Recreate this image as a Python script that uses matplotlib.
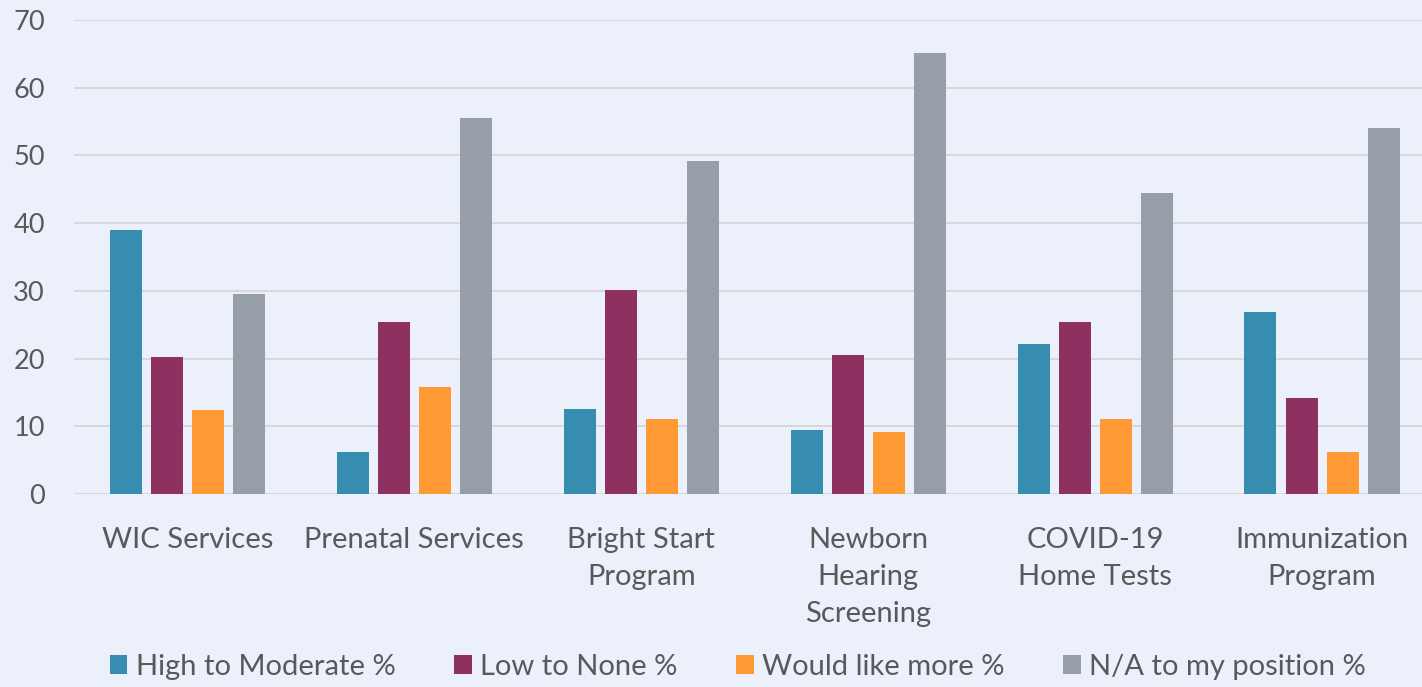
import matplotlib
matplotlib.use("Agg")
import matplotlib.pyplot as plt
import numpy as np

categories = ["WIC Services", "Prenatal Services", "Bright Start\nProgram",
              "Newborn\nHearing\nScreening", "COVID-19\nHome Tests", "Immunization\nProgram"]
series_names = ["High to Moderate %", "Low to None %", "Would like more %", "N/A to my position %"]
high_moderate = [39.0, 6.2, 12.6, 9.4, 22.2, 26.9]
low_none = [20.3, 25.4, 30.1, 20.6, 25.4, 14.2]
would_like_more = [12.4, 15.8, 11.1, 9.2, 11.1, 6.2]
na_position = [29.6, 55.5, 49.2, 65.1, 44.4, 54.0]
yticks = [0, 10, 20, 30, 40, 50, 60, 70]

colors = ["#378DB0", "#8E3060", "#FF9933", "#969EA7"]
bg = "#EBF0FA"
text_color = "#595959"

plt.rcParams['font.family'] = ['Lato', 'DejaVu Sans']

fig = plt.figure(figsize=(14.22, 6.87), dpi=100, facecolor=bg)
ax = fig.add_axes([74/1422, 1 - 494/687, (1435.5 - 74)/1422, (494 - 20)/687])
ax.set_facecolor(bg)

x = np.arange(len(categories))
step = 0.181
width = 0.141
all_series = [high_moderate, low_none, would_like_more, na_position]
for i, (vals, name, c) in enumerate(zip(all_series, series_names, colors)):
    ax.bar(x + (i - 1.5) * step, vals, width=width, color=c, label=name, zorder=3)

ax.set_xlim(-0.5, len(categories) - 0.5)
ax.set_ylim(0, 70)
ax.set_yticks(yticks)
ax.set_yticklabels([str(t) for t in yticks])
ax.yaxis.grid(True, color="#D6D6D6", linewidth=1.3, zorder=0)
ax.set_axisbelow(True)
for s in ax.spines.values():
    s.set_visible(False)
ax.tick_params(axis='y', length=0, pad=21, labelsize=19.5, labelcolor=text_color)
ax.tick_params(axis='x', length=0, pad=24, labelsize=21, labelcolor=text_color)
ax.set_xticks(x)
ax.set_xticklabels(categories, linespacing=1.52)

handles, labels = ax.get_legend_handles_labels()
leg = fig.legend(handles, labels, loc='center', bbox_to_anchor=(738/1422, 1 - 667/687),
                 ncol=4, frameon=False, fontsize=21, labelcolor=text_color,
                 handlelength=0.6, handleheight=0.6, handletextpad=0.3, columnspacing=2.0)

fig.savefig("out.png", dpi=100, facecolor=bg)
